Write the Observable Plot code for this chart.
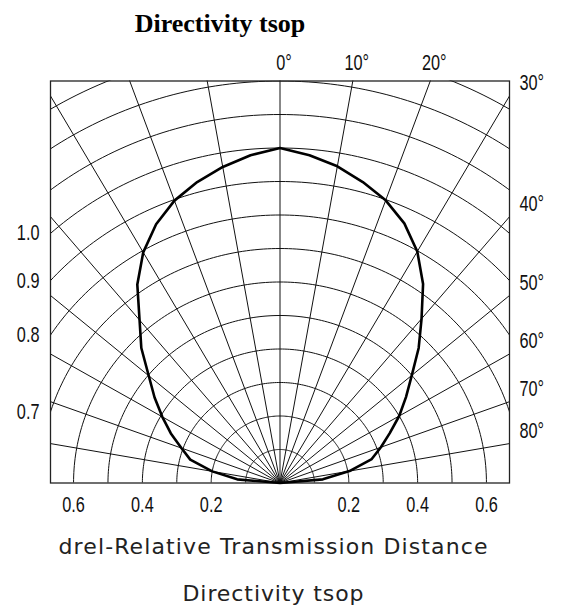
<!DOCTYPE html>
<html>
<head>
<meta charset="utf-8">
<script src="https://cdn.jsdelivr.net/npm/d3@7"></script>
<script src="https://cdn.jsdelivr.net/npm/@observablehq/plot@0.6"></script>
<style>
  html, body { margin: 0; padding: 0; background: #fff; }
  #chart { width: 563px; height: 610px; }
</style>
</head>
<body>
<div id="chart"></div>
<script>
// ---- data ----
const titleText = "Directivity tsop";
const xLabelText = "drel-Relative Transmission Distance";
const captionText = "Directivity tsop";

// directivity pattern: angle (deg from axis) and relative distance
const patternAngles = [-90,-85,-80,-75,-70,-65,-60,-55,-50,-45,-40,-35,-30,-25,-20,-15,-10,-5,0,
                        5,10,15,20,25,30,35,40,45,50,55,60,65,70,75,80,85,90];
const patternDist   = [0,0.125,0.20,0.27,0.305,0.35,0.395,0.445,0.498,0.57,0.635,0.723,0.795,0.852,0.897,0.93,0.958,0.982,1.0,
                        0.982,0.96,0.93,0.898,0.855,0.798,0.725,0.64,0.57,0.50,0.447,0.40,0.352,0.312,0.276,0.205,0.125,0];

// grid
const gridRadii  = [0.1,0.2,0.3,0.4,0.5,0.6,0.7,0.8,0.9,1.0,1.1,1.2,1.3];
const gridAngles = [-90,-80,-70,-60,-50,-40,-30,-20,-10,0,10,20,30,40,50,60,70,80,90];

// tick labels
const bottomTicks = [-0.6,-0.4,-0.2,0.2,0.4,0.6];
const leftTicks   = [1.0,0.9,0.8,0.7];
const rightAngleTicks = [30,40,50,60,70,80];
const topAngleTicks   = [0,10,20];

// ---- build ----
const xMax = 0.667, yMax = 1.2;
const rad = a => a * Math.PI / 180;

const arcPts = [];
for (const r of gridRadii) {
  for (let a = -90; a <= 90; a += 1) arcPts.push({r, x: r * Math.sin(rad(a)), y: r * Math.cos(rad(a))});
}
const rayPts = [];
for (const a of gridAngles) {
  rayPts.push({a, x: 0, y: 0});
  rayPts.push({a, x: 1.6 * Math.sin(rad(a)), y: 1.6 * Math.cos(rad(a))});
}
const curvePts = patternAngles.map((a, i) => ({
  x: patternDist[i] * Math.sin(rad(a)),
  y: patternDist[i] * Math.cos(rad(a))
}));

const tickFont = "'Liberation Sans', Arial, sans-serif";
const labelFont = "'DejaVu Sans', Verdana, sans-serif";
const tickOpts = {fontSize: 22, fontFamily: tickFont, fill: "#111", lineAnchor: "middle"};

const chart = Plot.plot({
  width: 563,
  height: 610,
  marginLeft: 50,
  marginRight: 54,
  marginTop: 80.5,
  marginBottom: 127.5,
  x: {domain: [-xMax, xMax], axis: null},
  y: {domain: [0, yMax], axis: null},
  style: {background: "#fff", overflow: "visible"},
  marks: [
    Plot.line(arcPts, {x: "x", y: "y", z: "r", stroke: "#111", strokeWidth: 1, clip: true}),
    Plot.line(rayPts, {x: "x", y: "y", z: "a", stroke: "#111", strokeWidth: 1, clip: true}),
    Plot.frame({stroke: "#222", strokeWidth: 1.3}),
    Plot.line(curvePts, {x: "x", y: "y", stroke: "#000", strokeWidth: 2.6, strokeLinejoin: "round"}),
    Plot.text(bottomTicks, {x: d => d, y: 0, text: d => Math.abs(d).toFixed(1), dy: 22, ...tickOpts}),
    Plot.text(leftTicks, {x: -xMax, y: r => Math.sqrt(r * r - xMax * xMax), text: d => d.toFixed(1),
      textAnchor: "end", dx: -11, ...tickOpts}),
    Plot.text(rightAngleTicks, {x: xMax, y: a => Math.min(xMax / Math.tan(rad(a)), yMax),
      text: d => d + "°", textAnchor: "start", dx: 10, dy: -13, ...tickOpts}),
    Plot.text(topAngleTicks, {x: a => yMax * Math.tan(rad(a)), y: yMax, text: d => d + "°",
      dx: 4, dy: -18, ...tickOpts}),
    Plot.text([titleText], {frameAnchor: "top", lineAnchor: "middle", text: d => d, dx: -60, dy: -57,
      fontSize: 26, fontWeight: "bold", fontFamily: "'Liberation Serif', 'Times New Roman', serif", fill: "#000"}),
    Plot.text([xLabelText], {frameAnchor: "bottom", lineAnchor: "middle", text: d => d, dx: -7, dy: 63.5,
      fontSize: 22, fontFamily: labelFont, fill: "#222"}),
    Plot.text([captionText], {frameAnchor: "bottom", lineAnchor: "middle", text: d => d, dx: -7, dy: 110.5,
      fontSize: 22, fontFamily: labelFont, fill: "#222"})
  ]
});
document.getElementById("chart").appendChild(chart);

// condensed look of the tick labels and text widths as in the reference
d3.select(chart).selectAll("text").each(function() {
  const t = this.textContent;
  const top = this.getBoundingClientRect().top;
  if (/^\d+(\.\d)?°?$/.test(t)) {
    const L = this.getComputedTextLength();
    this.setAttribute("textLength", (L * 0.74).toFixed(2));
    this.setAttribute("lengthAdjust", "spacingAndGlyphs");
  } else if (t === xLabelText) {
    this.setAttribute("textLength", 429);
    this.setAttribute("lengthAdjust", "spacing");
  } else if (t === captionText && top > 400) {
    this.setAttribute("textLength", 181);
    this.setAttribute("lengthAdjust", "spacing");
  }
});
</script>
</body>
</html>
